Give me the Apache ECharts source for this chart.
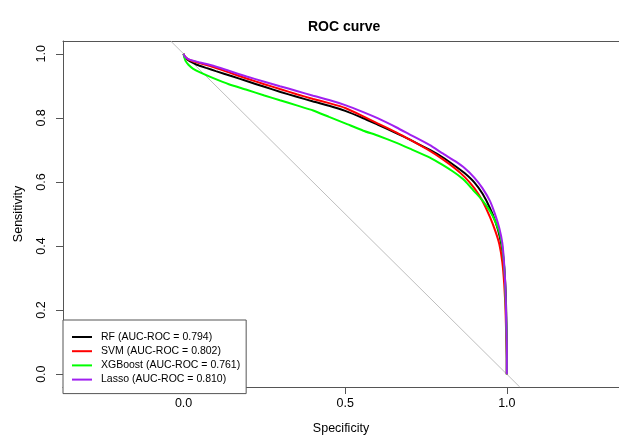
<!DOCTYPE html>
<html>
<head>
<meta charset="utf-8">
<script src="https://cdn.jsdelivr.net/npm/echarts@6/dist/echarts.min.js"></script>
<style>html,body{margin:0;padding:0;background:#fff}#c{width:619px;height:440px}</style>
</head>
<body>
<div id="c"></div>
<script>
// [specificity, sensitivity]
const rfPoints = [[0,1],[0.004,0.988],[0.02,0.976],[0.041,0.966],[0.07,0.956],[0.1,0.946],[0.15,0.93],[0.195,0.915],[0.25,0.897],[0.3,0.881],[0.35,0.866],[0.401,0.851],[0.45,0.838],[0.5,0.822],[0.556,0.799],[0.6,0.779],[0.659,0.752],[0.7,0.732],[0.762,0.7],[0.8,0.678],[0.84,0.65],[0.87,0.627],[0.9,0.598],[0.925,0.563],[0.948,0.518],[0.965,0.475],[0.978,0.43],[0.987,0.38],[0.993,0.32],[0.997,0.24],[0.999,0.15],[1,0.05],[1,0]];
const svmPoints = [[0,1],[0.005,0.99],[0.02,0.98],[0.05,0.971],[0.092,0.959],[0.14,0.942],[0.195,0.923],[0.25,0.905],[0.298,0.89],[0.35,0.874],[0.401,0.859],[0.45,0.846],[0.5,0.831],[0.556,0.805],[0.6,0.783],[0.659,0.754],[0.7,0.732],[0.762,0.697],[0.8,0.672],[0.84,0.642],[0.87,0.615],[0.9,0.58],[0.925,0.54],[0.948,0.49],[0.965,0.445],[0.977,0.405],[0.986,0.35],[0.992,0.28],[0.996,0.2],[0.998,0.12],[1,0.05],[1,0]];
const xgbPoints = [[0,1],[0.002,0.99],[0.006,0.978],[0.015,0.966],[0.03,0.953],[0.051,0.942],[0.092,0.924],[0.14,0.905],[0.195,0.888],[0.25,0.87],[0.298,0.855],[0.35,0.839],[0.401,0.823],[0.45,0.803],[0.5,0.783],[0.556,0.76],[0.6,0.745],[0.659,0.722],[0.7,0.704],[0.762,0.676],[0.8,0.654],[0.84,0.628],[0.87,0.604],[0.9,0.57],[0.925,0.542],[0.948,0.509],[0.965,0.475],[0.979,0.435],[0.988,0.38],[0.994,0.3],[0.997,0.2],[0.999,0.12],[1,0.05],[1,0]];
const lassoPoints = [[0,1],[0.005,0.99],[0.02,0.981],[0.05,0.973],[0.092,0.963],[0.14,0.947],[0.195,0.929],[0.25,0.913],[0.298,0.899],[0.35,0.884],[0.401,0.869],[0.45,0.856],[0.5,0.84],[0.556,0.818],[0.6,0.799],[0.659,0.77],[0.7,0.748],[0.762,0.715],[0.8,0.69],[0.84,0.665],[0.87,0.643],[0.9,0.613],[0.925,0.58],[0.948,0.54],[0.965,0.495],[0.977,0.455],[0.986,0.41],[0.992,0.34],[0.996,0.26],[0.998,0.17],[1,0.08],[1,0]];
const diagPoints = [[-0.04,1.04],[1.04,-0.04]];
const seriesNames = ['RF (AUC-ROC = 0.794)','SVM (AUC-ROC = 0.802)','XGBoost (AUC-ROC = 0.761)','Lasso (AUC-ROC = 0.810)'];
const seriesColors = ['#000000','#ff0000','#00ff00','#a020f0'];
const xTicks = [0,0.5,1];
const yTicks = [0,0.2,0.4,0.6,0.8,1];

const chart = echarts.init(document.getElementById('c'), null, {renderer:'canvas'});
const FONT = 'Liberation Sans, Arial, sans-serif';
const lineSeries = [rfPoints, svmPoints, xgbPoints, lassoPoints].map((d,i)=>({
  name: seriesNames[i], type:'line', data:d, symbol:'none', showSymbol:false, smooth:0.15,
  lineStyle:{color:seriesColors[i], width:2}, itemStyle:{color:seriesColors[i]},
  animation:false, z:3+i
}));
const XMIN = -0.373, XMAX = 1.347;
const FRAME = '#555';
chart.setOption({
  animation:false,
  backgroundColor:'#fff',
  title:{text:'ROC curve', left:308, top:20, padding:0,
    textStyle:{fontFamily:FONT, fontSize:14, fontWeight:'bold', color:'#000'}},
  grid:{left:63, top:41, right:0, bottom:47, show:false},
  legend:{
    data:seriesNames.map(n=>({name:n, icon:'rect'})), orient:'vertical', left:63, top:320,
    padding:[10,6,7,9], itemGap:0.2, itemWidth:20, itemHeight:2,
    borderColor:FRAME, borderWidth:1, backgroundColor:'#fff',
    textStyle:{fontFamily:FONT, fontSize:10.5, lineHeight:14, color:'#000', padding:[0,0,0,4]},
    selectedMode:false
  },
  xAxis:[{type:'value', min:XMIN, max:XMAX, position:'bottom',
    name:'Specificity', nameLocation:'middle', nameGap:35,
    nameTextStyle:{fontFamily:FONT, fontSize:12.5, color:'#000'},
    axisLine:{show:true, onZero:false, lineStyle:{color:FRAME}},
    axisTick:{show:true, length:7, customValues:xTicks, lineStyle:{color:FRAME}},
    axisLabel:{customValues:xTicks, margin:10, fontFamily:FONT, fontSize:12.5, color:'#000',
      formatter:v=>v.toFixed(1)},
    splitLine:{show:false}},
   {type:'value', min:XMIN, max:XMAX, position:'top',
    axisLine:{show:true, onZero:false, lineStyle:{color:FRAME}},
    axisTick:{show:false}, axisLabel:{show:false}, splitLine:{show:false}}],
  yAxis:{type:'value', min:-0.04, max:1.04,
    name:'Sensitivity', nameLocation:'middle', nameGap:38,
    nameTextStyle:{fontFamily:FONT, fontSize:12.5, color:'#000'},
    axisLine:{show:true, onZero:false, lineStyle:{color:FRAME}},
    axisTick:{show:true, length:7, customValues:yTicks, lineStyle:{color:FRAME}},
    axisLabel:{customValues:yTicks, rotate:90, margin:15, fontFamily:FONT, fontSize:12.5, color:'#000',
      formatter:v=>v.toFixed(1)},
    splitLine:{show:false}},
  series:[{type:'line', data:diagPoints, symbol:'none', lineStyle:{color:'#bebebe', width:1}, silent:true, z:2, animation:false}].concat(lineSeries)
});
</script>
</body>
</html>
